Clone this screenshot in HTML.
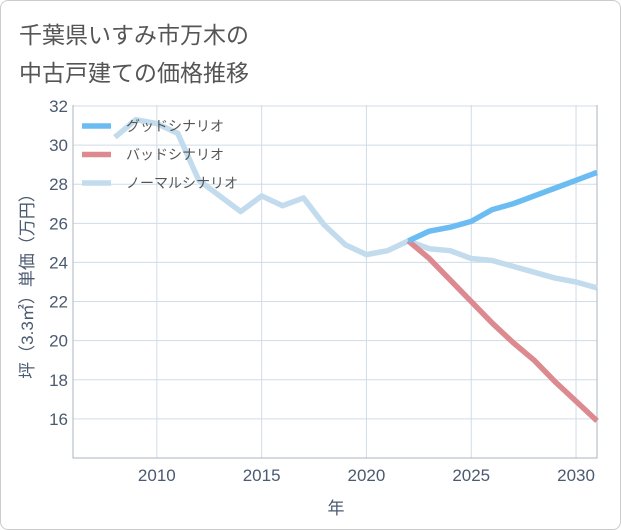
<!DOCTYPE html>
<html><head><meta charset="utf-8"><style>
body{margin:0;background:#fff;font-family:"Liberation Sans","Noto Sans CJK JP",sans-serif}
#wrap{position:relative;width:619px;height:528px;border:1px solid #ccc;border-radius:8px;overflow:hidden;background:#fff}
.t{position:absolute;left:18px;font-size:23px;color:#555}
</style></head><body>
<div id="wrap">
<div class="t" style="top:15px">千葉県いすみ市万木の</div>
<div class="t" style="top:53px">中古戸建ての価格推移</div>
<svg id="c" width="621" height="530" style="position:absolute;left:-1px;top:-1px"></svg>
</div>
<script>
const normalYears=[2008,2009,2010,2011,2012,2013,2014,2015,2016,2017,2018,2019,2020,2021,2022,2023,2024,2025,2026,2027,2028,2029,2030,2031];
const normalVals=[30.4,31.3,31.1,30.6,28.2,27.4,26.6,27.4,26.9,27.3,25.9,24.9,24.4,24.6,25.1,24.7,24.6,24.2,24.1,23.8,23.5,23.2,23.0,22.7];
const futureYears=[2022,2023,2024,2025,2026,2027,2028,2029,2030,2031];
const goodVals=[25.1,25.6,25.8,26.1,26.7,27.0,27.4,27.8,28.2,28.6];
const badVals=[25.1,24.2,23.1,22.0,20.9,19.9,19.0,17.9,16.9,15.9];
const xTicks=[2010,2015,2020,2025,2030];
const yTicks=[16,18,20,22,24,26,28,30,32];
const NS="http://www.w3.org/2000/svg",svg=document.getElementById('c');
const X0=73,X1=597,Y0=458,Y1=105,xMin=2006,xMax=2031,yMin=14,yMax=32.05;
const sx=v=>X0+(v-xMin)/(xMax-xMin)*(X1-X0);
const sy=v=>Y0-(v-yMin)/(yMax-yMin)*(Y0-Y1);
function mk(t,a,p){const e=document.createElementNS(NS,t);for(const k in a)e.setAttribute(k,a[k]);(p||svg).appendChild(e);return e;}
yTicks.forEach(v=>{
const l=mk('line',{x1:X0,x2:X1,y1:sy(v),y2:sy(v),stroke:'#d0dce8','stroke-width':1});


const t=mk('text',{x:X0-5,y:sy(v)+6,'text-anchor':'end','font-size':17,fill:'#4a5a70'});t.textContent=v;


});
xTicks.forEach(v=>{
const l=mk('line',{x1:sx(v),x2:sx(v),y1:Y1,y2:Y0,stroke:'#d0dce8','stroke-width':1});


const t=mk('text',{x:sx(v),y:Y0+23,'text-anchor':'middle','font-size':17,fill:'#4a5a70'});t.textContent=v;


});
const ax=mk('path',{d:`M${X0},${Y1}V${Y0}H${X1}V${Y1}`,fill:'none',stroke:'#aab4c0','stroke-width':1});


function line(xs,ys,col,name){const d=xs.map((x,i)=>(i?'L':'M')+sx(x)+','+sy(ys[i])).join('');
const p=mk('path',{d:d,fill:'none',stroke:col,'stroke-width':5.5,'stroke-linejoin':'round'});

}
line(normalYears,normalVals,'#c2dced','normal-scenario-line');
line(futureYears,badVals,'#dc8a90','bad-scenario-line');
line(futureYears,goodVals,'#6bbcf2','good-scenario-line');
const leg=[['グッドシナリオ','#6bbcf2'],['バッドシナリオ','#dc8a90'],['ノーマルシナリオ','#c2dced']];
leg.forEach((e,i)=>{const y=126+i*28.5;
const g=mk('g',{});


mk('line',{x1:82,x2:111,y1:y,y2:y,stroke:e[1],'stroke-width':5.5},g);
const t=mk('text',{x:126,y:y+5,'font-size':14,fill:'#555'},g);t.textContent=e[0];});
const xt=mk('text',{x:336,y:514,'text-anchor':'middle','font-size':17,fill:'#4a5a70'});xt.textContent='年';


const yt=mk('text',{x:0,y:0,'text-anchor':'middle','font-size':17,fill:'#4a5a70',transform:'translate(33,282) rotate(-90)'});yt.textContent='坪（3.3㎡）単価（万円）';


</script>
</body></html>
